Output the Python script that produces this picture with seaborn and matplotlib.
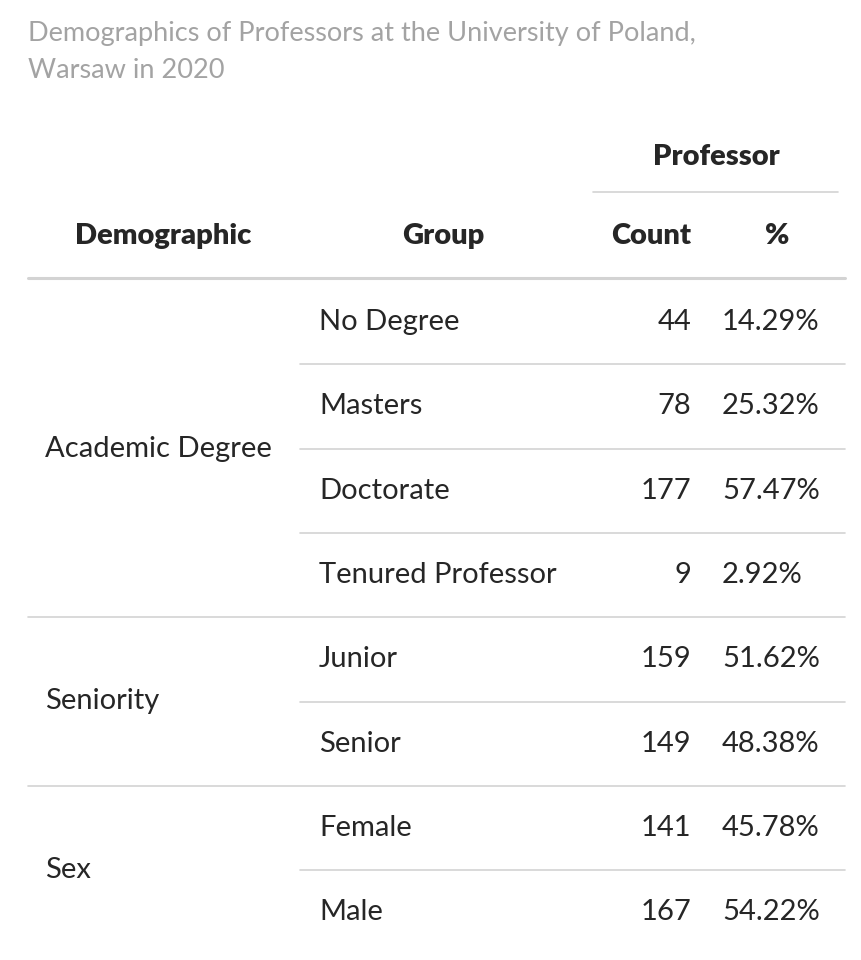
import matplotlib.pyplot as plt
import seaborn as sns

# ── Data ──────────────────────────────────────────────────────────────────────
demographics = ["Academic Degree", "Seniority", "Sex"]
group_sizes  = [4, 2, 2]
groups  = ["No Degree", "Masters", "Doctorate", "Tenured Professor",
           "Junior", "Senior", "Female", "Male"]
counts  = [44, 78, 177, 9, 159, 149, 141, 167]
percent = ["14.29%", "25.32%", "57.47%", "2.92%",
           "51.62%", "48.38%", "45.78%", "54.22%"]

TITLE = "Demographics of Professors at the University of Poland,\nWarsaw in 2020"

# ── Figure (pixel coordinates, origin top-left) ───────────────────────────────
sns.set_theme(style="white")
plt.rcParams["font.family"] = ["Lato", "DejaVu Sans"]

W, H = 861, 960
fig = plt.figure(figsize=(W / 100, H / 100), dpi=100)
ax = fig.add_axes([0, 0, 1, 1])
ax.set_xlim(0, W)
ax.set_ylim(H, 0)
ax.axis("off")

LINE = "#d3d3d3"
BODY = 21
BOLD = "heavy"
ax.text(28, 52, TITLE, fontsize=19.5, color="#a3a3a3", va="center",
        linespacing=1.6)

# headers
ax.text(716, 157, "Professor", fontsize=BODY, weight=BOLD, ha="center", va="center")
ax.plot([593, 838], [192, 192], color=LINE, lw=1.2)
ax.text(163, 236, "Demographic", fontsize=BODY, weight=BOLD, ha="center", va="center")
ax.text(443, 236, "Group", fontsize=BODY, weight=BOLD, ha="center", va="center")
ax.text(691, 236, "Count", fontsize=BODY, weight=BOLD, ha="right", va="center")
ax.text(777, 236, "%", fontsize=BODY, weight=BOLD, ha="center", va="center")
ax.plot([28, 845], [278, 278], color=LINE, lw=2.2)

# rows
top, rh = 280, 84.3
for i, (g, c, p) in enumerate(zip(groups, counts, percent)):
    yc = top + rh * (i + 0.5)
    ax.text(319, yc, g, fontsize=BODY, va="center")
    ax.text(691, yc, str(c), fontsize=BODY, ha="right", va="center")
    ax.text(722, yc, p, fontsize=BODY, ha="left", va="center")

start = 0
for d, n in zip(demographics, group_sizes):
    y0 = top + rh * start
    y1 = top + rh * (start + n)
    ax.text(45, (y0 + y1) / 2, d, fontsize=BODY, va="center")
    for k in range(1, n):
        yy = top + rh * (start + k)
        ax.plot([300, 845], [yy, yy], color=LINE, lw=1.2)
    if start + n < len(groups):
        ax.plot([28, 845], [y1, y1], color=LINE, lw=1.2)
    start += n

fig.savefig("out.png", dpi=100)
